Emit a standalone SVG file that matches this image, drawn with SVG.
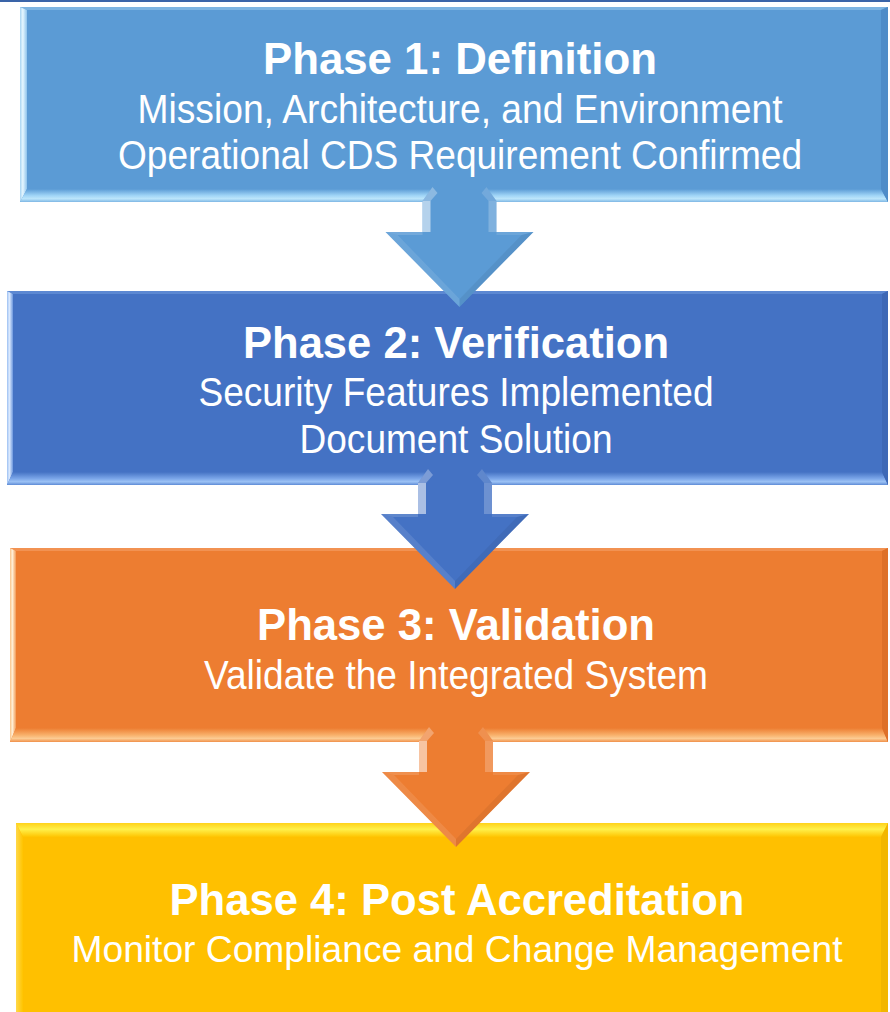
<svg xmlns="http://www.w3.org/2000/svg" width="890" height="1012" viewBox="0 0 890 1012">
<style>
.t{font-family:"Liberation Sans",Arial,sans-serif;fill:#fff;text-anchor:middle}
.h{font-weight:bold;font-size:45px}
.s{font-size:40px}
.s2{font-size:37px}
</style>
<defs>
<linearGradient id="b1" x1="0" y1="0" x2="0" y2="1"><stop offset="0" stop-color="#5B9BD5"/><stop offset="0.5" stop-color="#9FD4F6"/><stop offset="0.75" stop-color="#BDE6FB"/><stop offset="1" stop-color="#7DB6E4"/></linearGradient>
<linearGradient id="l1" x1="0" y1="0" x2="1" y2="0"><stop offset="0" stop-color="#A8D4F2"/><stop offset="0.4" stop-color="#E6F7FF"/><stop offset="1" stop-color="#8EC3EC"/></linearGradient>
<linearGradient id="b2" x1="0" y1="0" x2="0" y2="1"><stop offset="0" stop-color="#4472C4"/><stop offset="0.5" stop-color="#7AA5E8"/><stop offset="0.75" stop-color="#9CC2F5"/><stop offset="1" stop-color="#5E8BD6"/></linearGradient>
<linearGradient id="l2" x1="0" y1="0" x2="1" y2="0"><stop offset="0" stop-color="#9CC0F2"/><stop offset="0.4" stop-color="#DDEBFF"/><stop offset="1" stop-color="#6B96DD"/></linearGradient>
<linearGradient id="b3" x1="0" y1="0" x2="0" y2="1"><stop offset="0" stop-color="#ED7D31"/><stop offset="0.5" stop-color="#F8B06A"/><stop offset="0.75" stop-color="#FCCB92"/><stop offset="1" stop-color="#F0904A"/></linearGradient>
<linearGradient id="l3" x1="0" y1="0" x2="1" y2="0"><stop offset="0" stop-color="#F9C48A"/><stop offset="0.4" stop-color="#FFF0D8"/><stop offset="1" stop-color="#F29A55"/></linearGradient>
<linearGradient id="t4" x1="0" y1="0" x2="0" y2="1"><stop offset="0" stop-color="#FFD21A"/><stop offset="0.45" stop-color="#FFF04A"/><stop offset="1" stop-color="#FFC400"/></linearGradient>
<linearGradient id="l4" x1="0" y1="0" x2="1" y2="0"><stop offset="0" stop-color="#FFD84A"/><stop offset="1" stop-color="#FFC400"/></linearGradient>
<g id="arrow">
<path d="M-37,14 L-27,0 L27,0 L37,14 L37,45 L74,45 L0,120 L-74,45 L-37,45 Z" fill="currentColor"/>
<path d="M-37,14 L-29,14 L-29,45 L-37,45 Z" fill="#fff" opacity="0.55"/>
<path d="M-37,14 L-27,0 L-22,6 L-29,14 Z" fill="#fff" opacity="0.3"/>
<path d="M29,14 L37,14 L37,45 L29,45 Z" fill="#fff" opacity="0.22"/>
<path d="M27,0 L37,14 L29,14 L22,6 Z" fill="#fff" opacity="0.15"/>
<path d="M-74,45 L0,120 L0,112 L-62,48 Z" fill="#fff" opacity="0.1"/>
<path d="M74,45 L0,120 L0,112 L62,48 Z" fill="#000" opacity="0.06"/>
<path d="M-74,45 L-37,45 L-37,48 L-62,48 Z" fill="#fff" opacity="0.15"/>
<path d="M74,45 L37,45 L37,48 L62,48 Z" fill="#fff" opacity="0.1"/>
</g>
</defs>
<rect x="0" y="0" width="890" height="1012" fill="#fff"/>
<rect x="0" y="0" width="890" height="2" fill="#3A64A8"/>

<g id="phase1">
<rect x="20" y="7" width="868" height="195" fill="#5B9BD5"/>
<path d="M20,7 L888,7 L881,10 L27,10 Z" fill="#7DB4E2"/>
<path d="M20,7 L27,10 L27,189 L20,202 Z" fill="url(#l1)"/>
<path d="M20,202 L27,189 L881,189 L888,202 Z" fill="url(#b1)"/>
<path d="M888,7 L881,10 L881,189 L888,202 Z" fill="#4F8CC8"/>
<text class="t h" x="460" y="74" textLength="394" lengthAdjust="spacingAndGlyphs">Phase 1: Definition</text>
<text class="t s" x="460" y="123" textLength="645" lengthAdjust="spacingAndGlyphs">Mission, Architecture, and Environment</text>
<text class="t s" x="460" y="169" textLength="684" lengthAdjust="spacingAndGlyphs">Operational CDS Requirement Confirmed</text>
</g>

<g id="phase2">
<rect x="7" y="291" width="881" height="194" fill="#4472C4"/>
<path d="M7,291 L888,291 L882,294 L13,294 Z" fill="#5C88D2"/>
<path d="M7,291 L13,294 L13,472 L7,485 Z" fill="url(#l2)"/>
<path d="M7,485 L13,472 L882,472 L888,485 Z" fill="url(#b2)"/>
<path d="M888,291 L882,294 L882,472 L888,485 Z" fill="#3D68B6"/>
<text class="t h" x="456" y="358" textLength="426" lengthAdjust="spacingAndGlyphs">Phase 2: Verification</text>
<text class="t s" x="456" y="406" textLength="515" lengthAdjust="spacingAndGlyphs">Security Features Implemented</text>
<text class="t s" x="456" y="453" textLength="313" lengthAdjust="spacingAndGlyphs">Document Solution</text>
</g>

<g id="phase3">
<rect x="10" y="548" width="878" height="194" fill="#ED7D31"/>
<path d="M10,548 L888,548 L882,551 L16,551 Z" fill="#F29252"/>
<path d="M10,548 L16,551 L16,728 L10,742 Z" fill="url(#l3)"/>
<path d="M10,742 L16,728 L882,728 L888,742 Z" fill="url(#b3)"/>
<path d="M888,548 L882,551 L882,728 L888,742 Z" fill="#DE7028"/>
<text class="t h" x="456" y="640" textLength="398" lengthAdjust="spacingAndGlyphs">Phase 3: Validation</text>
<text class="t s" x="456" y="689" textLength="504" lengthAdjust="spacingAndGlyphs">Validate the Integrated System</text>
</g>

<g id="phase4">
<rect x="16" y="823" width="872" height="190" fill="#FFC000"/>
<path d="M16,823 L888,823 L881,837 L23,837 Z" fill="url(#t4)"/>
<path d="M16,823 L23,837 L23,1013 L16,1013 Z" fill="url(#l4)"/>
<path d="M888,823 L881,837 L881,1013 L888,1013 Z" fill="#F2B600"/>
<text class="t h" x="457" y="915" textLength="575" lengthAdjust="spacingAndGlyphs">Phase 4: Post Accreditation</text>
<text class="t s2" x="457" y="962" textLength="771" lengthAdjust="spacingAndGlyphs">Monitor Compliance and Change Management</text>
</g>

<g id="connectors">
<use href="#arrow" transform="translate(459.5,187)" style="color:#5B9BD5"/>
<use href="#arrow" transform="translate(455,469)" style="color:#4472C4"/>
<use href="#arrow" transform="translate(456,727)" style="color:#ED7D31"/>
</g>
</svg>
